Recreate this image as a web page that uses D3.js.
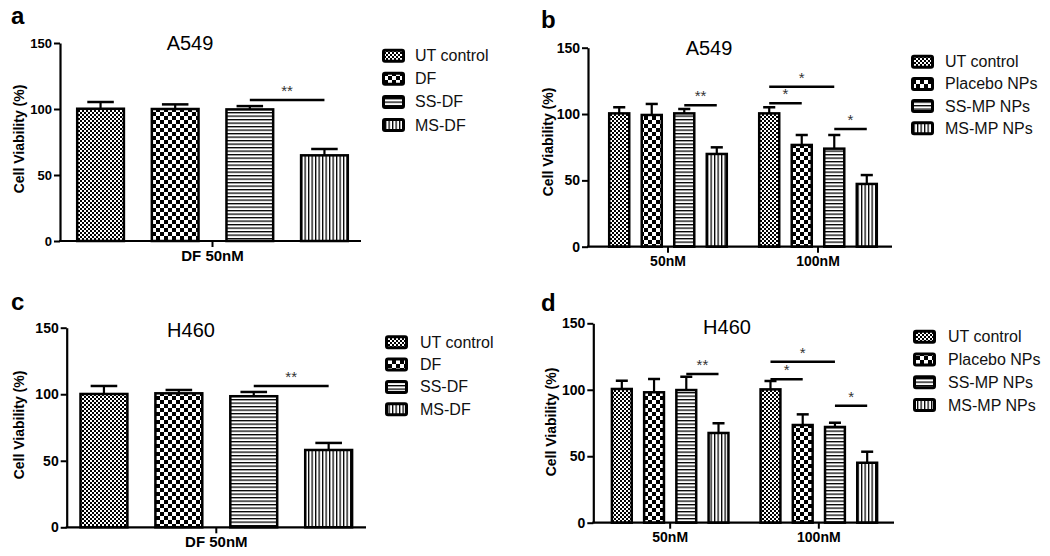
<!DOCTYPE html>
<html>
<head>
<meta charset="utf-8">
<script src="https://cdn.jsdelivr.net/npm/d3@7"></script>
<style>
  html, body { margin: 0; padding: 0; background: #fff; }
  svg { display: block; font-family: Arial, "Liberation Sans", sans-serif; }
</style>
</head>
<body>
<div id="chart"></div>
<script>
// ---------------- DATA ----------------
const yTicks = [0, 50, 100, 150];

const seriesDF = ["UT control", "DF", "SS-DF", "MS-DF"];
const seriesNP = ["UT control", "Placebo NPs", "SS-MP NPs", "MS-MP NPs"];

const categoriesSingle = ["DF 50nM"];
const categoriesDose = ["50nM", "100nM"];

// Panel a: A549, free drug
const meanA = [[100.2, 100.0, 99.7, 64.9]];
const sdA   = [[5.1, 3.5, 2.5, 4.8]];
const sigA  = [{ cat: 0, from: 2, to: 3, y: 106.8, label: "**" }];

// Panel b: A549, nanoparticles
const meanB = [[100.5, 99.3, 100.5, 69.9], [100.5, 76.7, 73.9, 47.3]];
const sdB   = [[4.6, 8.3, 3.3, 5.0], [4.6, 7.5, 10.3, 6.7]];
const sigB  = [
  { cat: 0, from: 2, to: 3, y: 106.6, label: "**" },
  { cat: 1, from: 0, to: 1, y: 108.1, label: "*" },
  { cat: 1, from: 0, to: 2, y: 120.6, label: "*" },
  { cat: 1, from: 2, to: 3, y: 88.7, label: "*" }
];

// Panel c: H460, free drug
const meanC = [[100.2, 100.7, 98.5, 58.1]];
const sdC   = [[6.0, 2.5, 3.2, 5.3]];
const sigC  = [{ cat: 0, from: 2, to: 3, y: 106.2, label: "**" }];

// Panel d: H460, nanoparticles
const meanD = [[100.6, 98.1, 99.8, 67.5], [100.3, 73.5, 72.0, 45.1]];
const sdD   = [[6.2, 10.0, 10.0, 7.3], [6.3, 8.0, 3.2, 8.3]];
const sigD  = [
  { cat: 0, from: 2, to: 3, y: 111.9, label: "**" },
  { cat: 1, from: 0, to: 1, y: 107.9, label: "*" },
  { cat: 1, from: 0, to: 2, y: 121.1, label: "*" },
  { cat: 1, from: 2, to: 3, y: 88.0, label: "*" }
];

const titleA = "A549", titleC = "H460";
const yLabel = "Cell Viability (%)";

// ---------------- LAYOUT ----------------
const svg = d3.select("#chart").append("svg").attr("width", 1050).attr("height", 556);

const defs = svg.append("defs");
function pat(id, w, h, draw) {
  const p = defs.append("pattern").attr("id", id).attr("patternUnits", "userSpaceOnUse")
    .attr("width", w).attr("height", h);
  p.append("rect").attr("width", w).attr("height", h).attr("fill", "#fff");
  draw(p);
}
pat("pFine", 4, 4, p => {
  p.append("rect").attr("x", 0).attr("y", 0).attr("width", 2).attr("height", 2).attr("fill", "#000");
  p.append("rect").attr("x", 2).attr("y", 2).attr("width", 2).attr("height", 2).attr("fill", "#000");
});
pat("pCoarse", 8, 8, p => {
  p.append("rect").attr("x", 0).attr("y", 0).attr("width", 4).attr("height", 4).attr("fill", "#000");
  p.append("rect").attr("x", 4).attr("y", 4).attr("width", 4).attr("height", 4).attr("fill", "#000");
});
pat("pHoriz", 4, 3.5, p => {
  p.append("rect").attr("x", 0).attr("y", 0).attr("width", 4).attr("height", 1.3).attr("fill", "#000");
});
pat("pVert", 3.5, 4, p => {
  p.append("rect").attr("x", 0).attr("y", 0).attr("width", 1.3).attr("height", 4).attr("fill", "#000");
});
const fills = ["url(#pFine)", "url(#pCoarse)", "url(#pHoriz)", "url(#pVert)"];

const panels = [
  { letter: "a", lx: 11, ly: 24, title: titleA, tx: 190, ty: 50,
    x0: 60, x1: 361, y0: 241, yTop: 43, bx0: 76, bx1: 349, outerPad: 0, innerPad: 0.342, tickFont: 13, catFont: 15,
    ylx: 19, yly: 139, legX: 382, legY: 55.7, legDy: 23.1, legTx: 415,
    cats: categoriesSingle, series: seriesDF, mean: meanA, sd: sdA, sig: sigA },
  { letter: "b", lx: 541, ly: 28, title: titleA, tx: 709, ty: 55,
    x0: 588, x1: 892, y0: 246.7, yTop: 47.7, bx0: 608, bx1: 878, outerPad: 0.2, innerPad: 0.31, tickFont: 14, catFont: 14,
    ylx: 548, yly: 142, legX: 911, legY: 61.7, legDy: 22.2, legTx: 945,
    cats: categoriesDose, series: seriesNP, mean: meanB, sd: sdB, sig: sigB },
  { letter: "c", lx: 11, ly: 310, title: titleC, tx: 191, ty: 337,
    x0: 66.7, x1: 366, y0: 527.3, yTop: 327.7, bx0: 79.3, bx1: 353.3, outerPad: 0, innerPad: 0.342, tickFont: 14, catFont: 15,
    ylx: 19, yly: 425, legX: 385, legY: 342.3, legDy: 22.3, legTx: 420,
    cats: categoriesSingle, series: seriesDF, mean: meanC, sd: sdC, sig: sigC },
  { letter: "d", lx: 541, ly: 311, title: titleC, tx: 727, ty: 334,
    x0: 593.3, x1: 894, y0: 522.7, yTop: 323.3, bx0: 610.7, bx1: 878.3, outerPad: 0.2, innerPad: 0.31, tickFont: 14, catFont: 14,
    ylx: 551, yly: 422, legX: 913, legY: 336.7, legDy: 22.8, legTx: 948,
    cats: categoriesDose, series: seriesNP, mean: meanD, sd: sdD, sig: sigD }
];

panels.forEach(P => {
  const g = svg.append("g");
  const y = d3.scaleLinear().domain([0, 150]).range([P.y0, P.yTop]);
  const xo = d3.scaleBand().domain(P.cats).range([P.bx0, P.bx1]).paddingInner(P.outerPad).paddingOuter(0);
  const xi = d3.scaleBand().domain(d3.range(P.series.length)).range([0, xo.bandwidth()]).paddingInner(P.innerPad).paddingOuter(0);
  const bw = xi.bandwidth();

  // bars
  P.cats.forEach((c, ci) => {
    P.series.forEach((s, si) => {
      const v = P.mean[ci][si], e = P.sd[ci][si];
      const bx = xo(c) + xi(si);
      const cx = bx + bw / 2;
      // error bar
      g.append("line").attr("x1", cx).attr("x2", cx).attr("y1", y(v)).attr("y2", y(v + e))
        .attr("stroke", "#000").attr("stroke-width", 2.2);
      g.append("line").attr("x1", cx - bw * 0.27).attr("x2", cx + bw * 0.27).attr("y1", y(v + e)).attr("y2", y(v + e))
        .attr("stroke", "#000").attr("stroke-width", 2.5);
      g.append("rect").attr("x", bx + 1.2).attr("y", y(v))
        .attr("width", bw - 2.4).attr("height", y(0) - y(v))
        .attr("fill", fills[si]).attr("stroke", "#000").attr("stroke-width", 2.5);
    });
  });

  // significance
  P.sig.forEach(s => {
    const c = P.cats[s.cat];
    const xa = xo(c) + xi(s.from) + bw / 2;
    const xb = xo(c) + xi(s.to) + bw / 2;
    g.append("line").attr("x1", xa).attr("x2", xb).attr("y1", y(s.y)).attr("y2", y(s.y))
      .attr("stroke", "#000").attr("stroke-width", 2.5);
    g.append("text").attr("x", (xa + xb) / 2).attr("y", y(s.y) - 4)
      .attr("text-anchor", "middle").attr("font-size", 15).attr("fill", "#333").text(s.label);
  });

  // y axis
  const ya = g.append("g").attr("transform", `translate(${P.x0},0)`)
    .call(d3.axisLeft(y).tickValues(yTicks).tickSize(6).tickSizeOuter(0).tickPadding(2));
  ya.select(".domain").attr("stroke-width", 2.2);
  ya.selectAll(".tick line").attr("stroke-width", 2);
  ya.selectAll(".tick text").attr("font-size", P.tickFont).attr("font-weight", "bold")
    .attr("font-family", "Arial, 'Liberation Sans', sans-serif").attr("fill", "#000");

  // x axis
  const xa = g.append("g").attr("transform", `translate(0,${P.y0})`)
    .call(d3.axisBottom(xo).tickSize(6).tickSizeOuter(0).tickPadding(3));
  xa.select(".domain").remove();
  xa.selectAll(".tick line").attr("stroke-width", 2);
  xa.selectAll(".tick text").attr("font-size", P.catFont).attr("font-weight", "bold")
    .attr("font-family", "Arial, 'Liberation Sans', sans-serif").attr("fill", "#000");
  g.append("line").attr("x1", P.x0 - 1).attr("x2", P.x1).attr("y1", P.y0).attr("y2", P.y0)
    .attr("stroke", "#000").attr("stroke-width", 2.2);

  // labels
  g.append("text").attr("transform", `translate(${P.ylx},${P.yly}) rotate(-90)`)
    .attr("text-anchor", "middle").attr("dominant-baseline", "central")
    .attr("font-size", 14).attr("font-weight", "bold").text(yLabel);
  g.append("text").attr("x", P.tx).attr("y", P.ty).attr("text-anchor", "middle")
    .attr("font-size", 20).text(P.title);
  g.append("text").attr("x", P.lx).attr("y", P.ly).attr("font-size", 24).attr("font-weight", "bold").text(P.letter);

  // legend
  P.series.forEach((s, si) => {
    const cy = P.legY + si * P.legDy;
    g.append("rect").attr("x", P.legX + 1.5).attr("y", cy - 5.5).attr("width", 20).attr("height", 11)
      .attr("rx", 1.5).attr("fill", fills[si]).attr("stroke", "#000").attr("stroke-width", 3);
    g.append("text").attr("x", P.legTx).attr("y", cy).attr("dominant-baseline", "central")
      .attr("font-size", 16).attr("fill", "#111").text(s);
  });
});
</script>
</body>
</html>
